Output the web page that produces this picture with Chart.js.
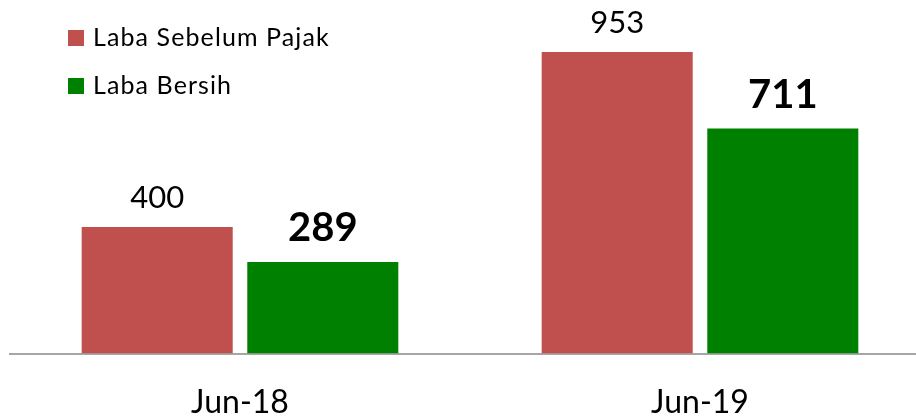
<!DOCTYPE html>
<html>
<head>
<meta charset="utf-8">
<script src="https://cdn.jsdelivr.net/npm/chart.js@4.4.1/dist/chart.umd.min.js"></script>
<style>
    html, body { margin: 0; padding: 0; background: #fff; overflow: hidden; }
    #wrap { position: relative; width: 930px; height: 452px; }
</style>
</head>
<body>
<div id="wrap"><canvas id="labaChart"></canvas></div>
<script>
const categories = ['Jun-18', 'Jun-19'];
const seriesNames = ['Laba Sebelum Pajak', 'Laba Bersih'];
const labaSebelumPajak = [400, 953];
const labaBersih = [289, 711];

const FONT = 'Lato, "Open Sans", sans-serif';

// nilai di atas batang + legenda vertikal kiri atas
const labelPlugin = {
    id: 'labelPlugin',
    afterDatasetsDraw(chart) {
        const ctx = chart.ctx;
        ctx.save();
        ctx.textAlign = 'center';
        ctx.textBaseline = 'alphabetic';
        chart.data.datasets.forEach(function (ds, i) {
            const meta = chart.getDatasetMeta(i);
            const bold = i === 1;
            ctx.font = (bold ? 'bold 40px ' : '31px ') + FONT;
            ctx.fillStyle = '#000';
            meta.data.forEach(function (bar, j) {
                ctx.fillText(ds.data[j], bar.x, bar.y - (bold ? 21 : 19));
            });
        });

        // legenda
        ctx.textAlign = 'left';
        ctx.textBaseline = 'middle';
        ctx.font = '25px ' + FONT;
        ctx.letterSpacing = '1.1px';
        chart.data.datasets.forEach(function (ds, i) {
            const y = 38 + i * 48;
            ctx.fillStyle = ds.backgroundColor;
            ctx.fillRect(68, y - 8, 16, 16);
            ctx.fillStyle = '#000';
            ctx.fillText(ds.label, 93, y);
        });
        ctx.restore();
    }
};

const ctx = document.getElementById('labaChart').getContext('2d');
new Chart(ctx, {
    type: 'bar',
    data: {
        labels: categories,
        datasets: [{
            label: seriesNames[0],
            data: labaSebelumPajak,
            backgroundColor: '#C0504D',
            categoryPercentage: 0.72,
            barPercentage: 0.912
        }, {
            label: seriesNames[1],
            data: labaBersih,
            backgroundColor: '#008000',
            categoryPercentage: 0.72,
            barPercentage: 0.912
        }]
    },
    options: {
        responsive: true,
        maintainAspectRatio: false,
        animation: false,
        layout: { padding: { left: 10, right: 0, top: 0, bottom: 0 } },
        plugins: {
            legend: { display: false },
            tooltip: { enabled: false }
        },
        scales: {
            x: {
                grid: { display: false, drawTicks: false },
                border: { display: true, color: '#a6a6a6', width: 2 },
                ticks: {
                    color: '#000',
                    padding: 30,
                    font: { family: FONT, size: 32 }
                }
            },
            y: {
                display: false,
                min: 0,
                max: 1117
            }
        }
    },
    plugins: [labelPlugin]
});
</script>
</body>
</html>
